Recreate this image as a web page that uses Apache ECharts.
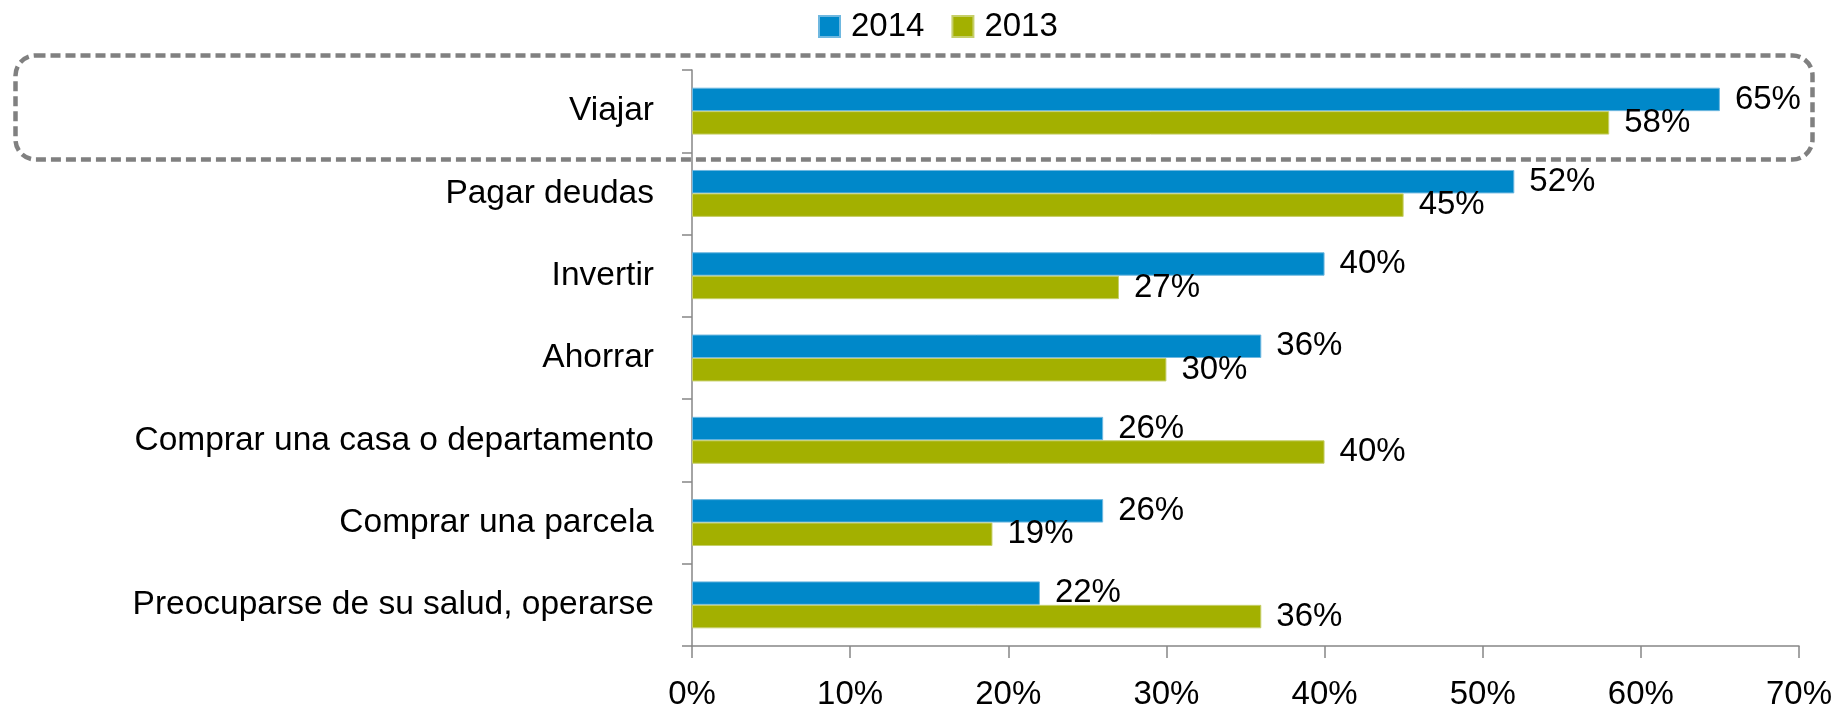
<!DOCTYPE html>
<html>
<head>
<meta charset="utf-8">
<script src="https://cdn.jsdelivr.net/npm/echarts@6/dist/echarts.min.js"></script>
<style>
  html, body { margin: 0; padding: 0; background: #ffffff; }
  #chart { width: 1835px; height: 711px; }
</style>
</head>
<body>
<div id="chart"></div>
<script>
const categories = [
  'Viajar',
  'Pagar deudas',
  'Invertir',
  'Ahorrar',
  'Comprar una casa o departamento',
  'Comprar una parcela',
  'Preocuparse de su salud, operarse',
];
const values2014 = [65, 52, 40, 36, 26, 26, 22];
const values2013 = [58, 45, 27, 30, 40, 19, 36];
const xTicks = [0, 10, 20, 30, 40, 50, 60, 70];

const blue = '#0088c9';
const green = '#a3b000';
const axisGray = '#868686';
const fontFamily = '"Liberation Sans", Arial, sans-serif';

const barLabel = {
  show: true,
  position: 'right',
  distance: 15,
  color: '#000',
  fontSize: 33,
  fontFamily,
  formatter: (p) => `${p.value}%`,
};

const chart = echarts.init(document.getElementById('chart'));
chart.setOption({
  animation: false,
  backgroundColor: '#ffffff',
  legend: {
    left: 818,
    top: 10,
    padding: 0,
    itemWidth: 21,
    itemHeight: 21,
    itemGap: 27,
    icon: 'rect',
    textStyle: { fontSize: 33, color: '#000', fontFamily, padding: [0, 0, 0, 6] },
    data: ['2014', '2013'],
  },
  grid: { left: 692, right: 36, top: 70, bottom: 64, containLabel: false },
  xAxis: {
    type: 'value',
    min: xTicks[0],
    max: xTicks[xTicks.length - 1],
    interval: 10,
    axisLine: { show: true, lineStyle: { color: axisGray, width: 1.5 } },
    axisTick: { show: true, length: 12, lineStyle: { color: axisGray, width: 1.5 } },
    splitLine: { show: false },
    axisLabel: {
      margin: 32,
      color: '#000',
      fontSize: 33,
      fontFamily,
      formatter: (v) => `${v}%`,
    },
  },
  yAxis: {
    type: 'category',
    inverse: true,
    data: categories,
    axisLine: { show: true, lineStyle: { color: axisGray, width: 1.5 } },
    axisTick: { show: true, length: 10, lineStyle: { color: axisGray, width: 1.5 } },
    axisLabel: { margin: 38, color: '#000', fontSize: 33.5, fontFamily },
  },
  graphic: [
    {
      type: 'rect',
      left: 13,
      top: 53,
      shape: { width: 1797, height: 104, r: 20 },
      style: { fill: 'none', stroke: '#808080', lineWidth: 4.5, lineDash: [10, 5] },
      z: 10,
    },
  ],
  series: [
    {
      name: '2014',
      type: 'bar',
      data: values2014,
      barGap: '0%',
      barCategoryGap: '43%',
      itemStyle: { color: blue, borderColor: '#6fb8e0', borderWidth: 1 },
      label: barLabel,
    },
    {
      name: '2013',
      type: 'bar',
      data: values2013,
      barGap: '0%',
      barCategoryGap: '43%',
      itemStyle: { color: green, borderColor: '#c6cf6a', borderWidth: 1 },
      label: barLabel,
    },
  ],
});
</script>
</body>
</html>
